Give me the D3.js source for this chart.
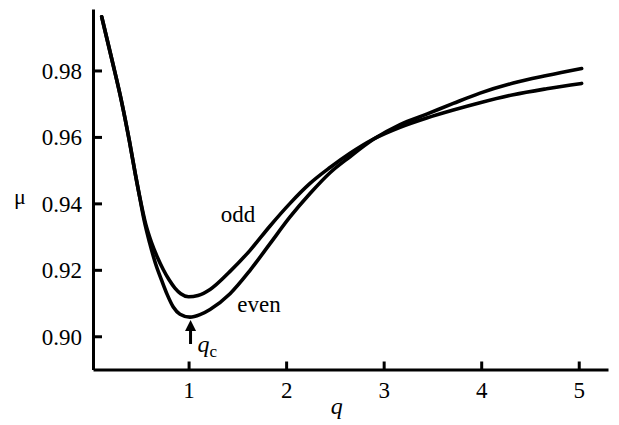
<!DOCTYPE html>
<html>
<head>
<meta charset="utf-8">
<script src="https://cdn.jsdelivr.net/npm/d3@7"></script>
<style>
  body { margin: 0; background: #fff; }
  svg { display: block; }
  svg text { font-family: "Liberation Serif", "DejaVu Serif", serif; fill: #000; }
</style>
</head>
<body>
<svg id="chart" width="619" height="425" font-family="Liberation Serif, serif"></svg>
<script>
// Data
const oddQ = [0.109, 0.216, 0.314, 0.393, 0.456, 0.50, 0.56, 0.62, 0.68, 0.74, 0.80, 0.86, 0.92, 1.00, 1.096, 1.220, 1.425, 1.630, 1.835, 2.040, 2.245, 2.450, 2.655, 2.891, 3.168, 3.441, 3.714, 3.988, 4.329, 4.671, 5.030];
const oddMu = [0.99618, 0.98300, 0.97050, 0.95880, 0.94850, 0.9418, 0.9338, 0.9282, 0.9238, 0.9201, 0.9170, 0.9145, 0.9128, 0.9119, 0.9123, 0.9141, 0.91954, 0.92587, 0.9332, 0.9400, 0.9460, 0.9508, 0.9551, 0.9593, 0.9629, 0.9657, 0.9681, 0.9703, 0.9727, 0.9745, 0.9761];
const evenQ = [0.109, 0.216, 0.314, 0.393, 0.456, 0.50, 0.543, 0.60, 0.66, 0.724, 0.78, 0.843, 0.912, 1.014, 1.117, 1.220, 1.425, 1.630, 1.835, 2.040, 2.245, 2.450, 2.655, 2.891, 3.168, 3.441, 3.714, 3.988, 4.329, 4.671, 5.030];
const evenMu = [0.99618, 0.98300, 0.97050, 0.95880, 0.94850, 0.9417, 0.9351, 0.9282, 0.9220, 0.91682, 0.9126, 0.9088, 0.90665, 0.90576, 0.90650, 0.90808, 0.91282, 0.91984, 0.92788, 0.93590, 0.94295, 0.94922, 0.95404, 0.9592, 0.9637, 0.96685, 0.97008, 0.97318, 0.97620, 0.97846, 0.98057];
const xTicks = [1, 2, 3, 4, 5];
const yTicks = [0.90, 0.92, 0.94, 0.96, 0.98];
const qc = [1.02, 0.9058];   // critical point marked by the arrow

// Layout
const margin = {top: 9, right: 11, bottom: 55.5, left: 93};
const W = 619, H = 425;
const svg = d3.select('#chart');
const g = svg.append('g').attr('transform', `translate(${margin.left},${margin.top})`);
const w = W - margin.left - margin.right;
const h = H - margin.top - margin.bottom;

const x = d3.scaleLinear().domain([0.02, 5.3]).range([0, w]);
const y = d3.scaleLinear().domain([0.89, 0.9985]).range([h, 0]);

// Axes (ticks pointing inward)
const xAxis = g.append('g')
    .attr('transform', `translate(0,${h})`)
    .call(d3.axisBottom(x).tickValues(xTicks).tickSizeInner(-8).tickSizeOuter(0).tickPadding(12).tickFormat(d3.format('d')));
const yAxis = g.append('g')
    .call(d3.axisLeft(y).tickValues(yTicks).tickSizeInner(-9).tickSizeOuter(0).tickPadding(11).tickFormat(d3.format('.2f')));

[xAxis, yAxis].forEach(a => {
    a.attr('font-family', null).attr('font-size', 23);
    a.select('.domain').attr('stroke', '#000').attr('stroke-width', 3);
    a.selectAll('.tick line').attr('stroke', '#000').attr('stroke-width', 3);
    a.selectAll('.tick text').attr('fill', '#000');
});
yAxis.selectAll('.tick text').attr('dy', '0.34em');

// Curves
const line = d3.line()
    .x(d => x(d[0]))
    .y(d => y(d[1]))
    .curve(d3.curveMonotoneX);

const series = [
    d3.zip(oddQ, oddMu),
    d3.zip(evenQ, evenMu)
];
g.selectAll('.curve')
    .data(series)
    .join('path')
    .attr('class', 'curve')
    .attr('d', line)
    .attr('fill', 'none')
    .attr('stroke', '#000')
    .attr('stroke-width', 3.6)
    .attr('stroke-linecap', 'round')
    .attr('stroke-linejoin', 'round');

// Curve labels
g.append('text')
    .attr('x', x(1.33)).attr('y', y(0.9343))
    .attr('font-size', 23).text('odd');
g.append('text')
    .attr('x', x(1.5)).attr('y', y(0.9072))
    .attr('font-size', 23).text('even');

// q_c arrow
const ax = x(qc[0]), ay = y(qc[1]) + 3;
g.append('line')
    .attr('x1', ax).attr('x2', ax)
    .attr('y1', ay + 8).attr('y2', ay + 24)
    .attr('stroke', '#000').attr('stroke-width', 3);
g.append('path')
    .attr('d', `M${ax},${ay} L${ax - 5.5},${ay + 11} L${ax + 5.5},${ay + 11} Z`)
    .attr('fill', '#000');
const qcText = g.append('text')
    .attr('x', ax + 7).attr('y', ay + 32)
    .attr('font-size', 24);
qcText.append('tspan').attr('font-style', 'italic').text('q');
qcText.append('tspan').attr('font-size', 17).attr('dy', 5).text('c');

// Axis titles
g.append('text')
    .attr('x', x(2.52)).attr('y', h + 44)
    .attr('text-anchor', 'middle')
    .attr('font-size', 24).attr('font-style', 'italic')
    .text('q');
svg.append('text')
    .attr('x', 14).attr('y', 204)
    .attr('font-size', 22)
    .text('μ');
</script>
</body>
</html>
